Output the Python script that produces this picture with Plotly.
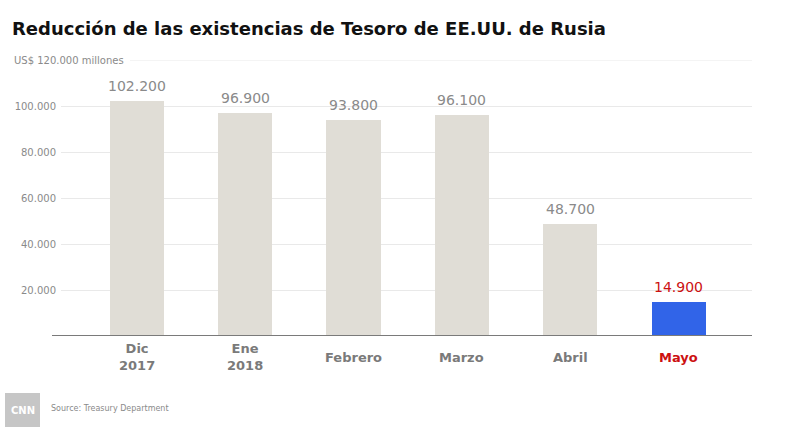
import plotly.graph_objects as go

categories = ["Dic<br>2017", "Ene<br>2018", "Febrero", "Marzo", "Abril", "Mayo"]
values = [102200, 96900, 93800, 96100, 48700, 14900]
value_labels = ["102.200", "96.900", "93.800", "96.100", "48.700", "14.900"]
y_ticks = [20000, 40000, 60000, 80000, 100000]
y_tick_labels = ["20.000", "40.000", "60.000", "80.000", "100.000"]
y_top = 120000

W, H = 798, 438
FONT = "DejaVu Sans"
GRAY_BAR = "#e0ddd6"
BLUE = "#3164e8"
RED = "#cc1111"
TXT_GRAY = "#7a7a7a"

bar_colors = [GRAY_BAR] * 5 + [BLUE]
x_idx = list(range(len(categories)))

fig = go.Figure()
fig.add_trace(go.Bar(
    x=x_idx, y=values, marker=dict(color=bar_colors, line=dict(width=0)),
    width=0.5, hoverinfo="skip", showlegend=False,
))

x0p, x1p = 61, 752
y0p, y1p = 336, 60

annotations = []
for i, (v, lab) in enumerate(zip(values, value_labels)):
    annotations.append(dict(
        x=i, y=v, xref="x", yref="y", text=lab, showarrow=False,
        yanchor="middle", yshift=15,
        font=dict(family=FONT, size=14, color=RED if i == 5 else "#8a8a8a"),
    ))
for i, c in enumerate(categories):
    annotations.append(dict(
        x=i, y=(H - 357) / H, xref="x", yref="paper", text=f"<b>{c}</b>",
        showarrow=False, yanchor="middle", align="center",
        font=dict(family=FONT, size=13, color=RED if i == 5 else TXT_GRAY),
    ))

# title
annotations.append(dict(
    x=10 / W, y=(H - 29) / H, xref="paper", yref="paper", xanchor="left", yanchor="middle",
    text="<b>Reducción de las existencias de Tesoro de EE.UU. de Rusia</b>", showarrow=False,
    font=dict(family=FONT, size=18, color="#111111"),
))
# unit label at top gridline
annotations.append(dict(
    x=12 / W, y=(H - 60) / H, xref="paper", yref="paper", xanchor="left", yanchor="middle",
    text="US$ 120.000 millones", showarrow=False,
    font=dict(family=FONT, size=10, color="#8a8a8a"),
))
# source
annotations.append(dict(
    x=49 / W, y=(H - 408) / H, xref="paper", yref="paper", xanchor="left", yanchor="middle",
    text="Source: Treasury Department", showarrow=False,
    font=dict(family=FONT, size=8, color="#8a8a8a"),
))
# CNN logo text
annotations.append(dict(
    x=22.5 / W, y=(H - 410) / H, xref="paper", yref="paper", xanchor="center", yanchor="middle",
    text="<b>CNN</b>", showarrow=False,
    font=dict(family=FONT, size=10, color="white"),
))

shapes = [
    # top gridline (after unit label)
    dict(type="line", xref="paper", yref="y", x0=130 / W, x1=x1p / W, y0=y_top, y1=y_top,
         line=dict(color="#e9e9e9", width=1)),
    # baseline
    dict(type="line", xref="paper", yref="y", x0=52 / W, x1=x1p / W, y0=0, y1=0,
         line=dict(color="#7a7a7a", width=2)),
    # CNN logo box
    dict(type="rect", xref="paper", yref="paper", x0=5 / W, x1=40 / W,
         y0=(H - 427) / H, y1=(H - 393) / H, fillcolor="#c6c6c6", line=dict(width=0)),
]

fig.update_layout(
    width=W, height=H, margin=dict(l=0, r=0, t=0, b=0),
    paper_bgcolor="white", plot_bgcolor="white",
    bargap=0,
    xaxis=dict(domain=[x0p / W, x1p / W], range=[-0.698, 5.677], showticklabels=False,
               showgrid=False, zeroline=False, showline=False, fixedrange=True),
    yaxis=dict(domain=[(H - y0p) / H, (H - y1p) / H], range=[0, y_top],
               tickvals=y_ticks, ticktext=y_tick_labels, showgrid=True,
               gridcolor="#e9e9e9", gridwidth=1, zeroline=False, showline=False,
               ticks="", tickfont=dict(family=FONT, size=10, color="#8a8a8a"),
               ticklabelstandoff=4, fixedrange=True),
    annotations=annotations, shapes=shapes,
)

fig.write_html("out.html")
